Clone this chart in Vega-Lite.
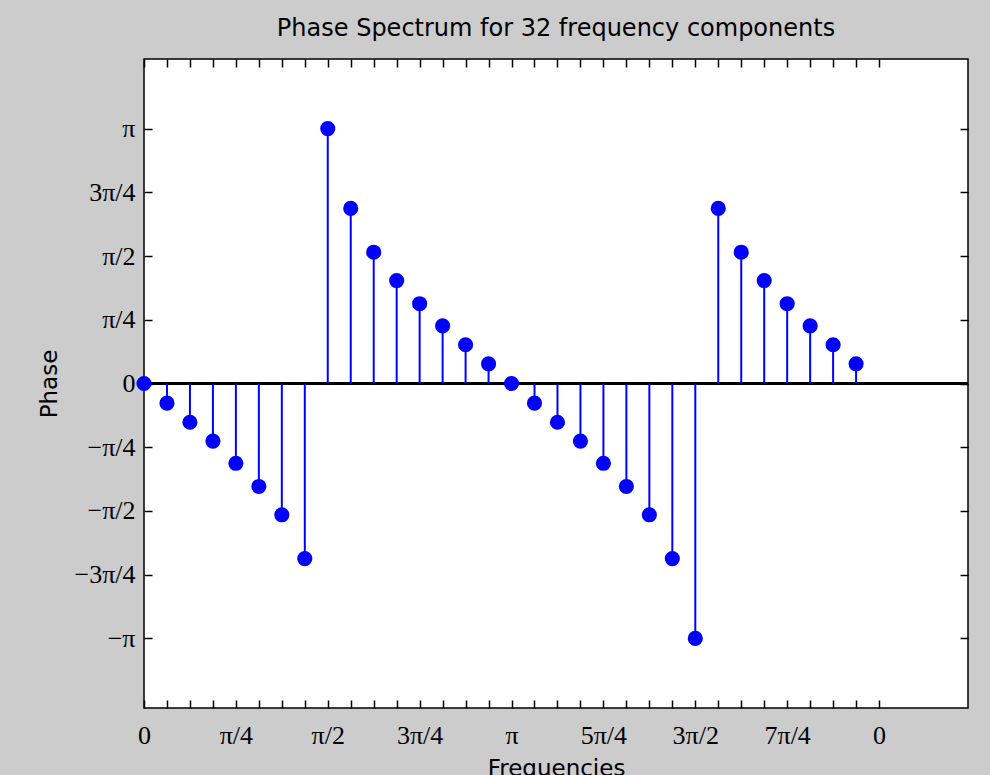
{
  "$schema": "https://vega.github.io/schema/vega-lite/v6.json",
  "autosize": {"type": "none"},
  "padding": {"left": 144, "top": 59, "right": 22, "bottom": 67},
  "width": 824,
  "height": 649,
  "background": "#cccccc",
  "config": {
    "view": {"fill": "white", "stroke": "black", "strokeWidth": 1.5},
    "axis": {"grid": false, "domain": false, "labelOverlap": false, "labelFlush": false, "tickColor": "black", "tickWidth": 1.5, "tickSize": -8, "labelFont": "Liberation Serif", "labelFontSize": 26, "labelColor": "black", "titleFont": "DejaVu Sans", "titleFontSize": 23, "titleFontWeight": "normal", "titleColor": "black"}
  },
  "title": {"text": "Phase Spectrum for 32 frequency components", "font": "DejaVu Sans", "fontSize": 24, "fontWeight": "normal", "color": "black", "anchor": "middle", "baseline": "alphabetic", "offset": -2},
  "data": {"values": [
    {"freq_pi": 0, "phase_pi": 0},
    {"freq_pi": 0.0625, "phase_pi": -0.077},
    {"freq_pi": 0.125, "phase_pi": -0.152},
    {"freq_pi": 0.1875, "phase_pi": -0.226},
    {"freq_pi": 0.25, "phase_pi": -0.313},
    {"freq_pi": 0.3125, "phase_pi": -0.404},
    {"freq_pi": 0.375, "phase_pi": -0.515},
    {"freq_pi": 0.4375, "phase_pi": -0.687},
    {"freq_pi": 0.5, "phase_pi": 1},
    {"freq_pi": 0.5625, "phase_pi": 0.687},
    {"freq_pi": 0.625, "phase_pi": 0.515},
    {"freq_pi": 0.6875, "phase_pi": 0.404},
    {"freq_pi": 0.75, "phase_pi": 0.313},
    {"freq_pi": 0.8125, "phase_pi": 0.226},
    {"freq_pi": 0.875, "phase_pi": 0.152},
    {"freq_pi": 0.9375, "phase_pi": 0.077},
    {"freq_pi": 1, "phase_pi": 0},
    {"freq_pi": 1.0625, "phase_pi": -0.077},
    {"freq_pi": 1.125, "phase_pi": -0.152},
    {"freq_pi": 1.1875, "phase_pi": -0.226},
    {"freq_pi": 1.25, "phase_pi": -0.313},
    {"freq_pi": 1.3125, "phase_pi": -0.404},
    {"freq_pi": 1.375, "phase_pi": -0.515},
    {"freq_pi": 1.4375, "phase_pi": -0.687},
    {"freq_pi": 1.5, "phase_pi": -1},
    {"freq_pi": 1.5625, "phase_pi": 0.687},
    {"freq_pi": 1.625, "phase_pi": 0.515},
    {"freq_pi": 1.6875, "phase_pi": 0.404},
    {"freq_pi": 1.75, "phase_pi": 0.313},
    {"freq_pi": 1.8125, "phase_pi": 0.226},
    {"freq_pi": 1.875, "phase_pi": 0.152},
    {"freq_pi": 1.9375, "phase_pi": 0.077}
  ]},
  "resolve": {"axis": {"x": "independent", "y": "independent"}},
  "layer": [
    {
      "mark": {"type": "rule", "color": "black", "strokeWidth": 1.5},
      "encoding": {
        "y": {"datum": 0, "type": "quantitative", "scale": {"domain": [-1.273, 1.273], "nice": false, "zero": false},
          "axis": {"orient": "left", "title": "Phase", "titlePadding": 12, "labelPadding": 17,
            "values": [-1, -0.75, -0.5, -0.25, 0, 0.25, 0.5, 0.75, 1],
            "labelExpr": "datum.value == -1 ? '−π' : datum.value == -0.75 ? '−3π/4' : datum.value == -0.5 ? '−π/2' : datum.value == -0.25 ? '−π/4' : datum.value == 0 ? '0' : datum.value == 0.25 ? 'π/4' : datum.value == 0.5 ? 'π/2' : datum.value == 0.75 ? '3π/4' : datum.value == 1 ? 'π' : ''"}}
      }
    },
    {
      "mark": {"type": "rule", "color": "#0000ff", "strokeWidth": 2},
      "encoding": {
        "x": {"field": "freq_pi", "type": "quantitative", "scale": {"domain": [0, 2.242], "nice": false, "zero": false},
          "axis": {"orient": "bottom", "title": "Frequencies", "titlePadding": 9, "labelPadding": 22,
            "values": [0, 0.0625, 0.125, 0.1875, 0.25, 0.3125, 0.375, 0.4375, 0.5, 0.5625, 0.625, 0.6875, 0.75, 0.8125, 0.875, 0.9375, 1, 1.0625, 1.125, 1.1875, 1.25, 1.3125, 1.375, 1.4375, 1.5, 1.5625, 1.625, 1.6875, 1.75, 1.8125, 1.875, 1.9375, 2],
            "labelExpr": "datum.value == 0 ? '0' : datum.value == 0.25 ? 'π/4' : datum.value == 0.5 ? 'π/2' : datum.value == 0.75 ? '3π/4' : datum.value == 1 ? 'π' : datum.value == 1.25 ? '5π/4' : datum.value == 1.5 ? '3π/2' : datum.value == 1.75 ? '7π/4' : datum.value == 2 ? '0' : ''"}},
        "y": {"field": "phase_pi", "type": "quantitative", "axis": null},
        "y2": {"datum": 0}
      }
    },
    {
      "mark": {"type": "point", "shape": "circle", "filled": true, "color": "#0000ff", "size": 230, "opacity": 1},
      "encoding": {
        "x": {"field": "freq_pi", "type": "quantitative",
          "axis": {"orient": "top", "title": null, "labels": false,
            "values": [0, 0.0625, 0.125, 0.1875, 0.25, 0.3125, 0.375, 0.4375, 0.5, 0.5625, 0.625, 0.6875, 0.75, 0.8125, 0.875, 0.9375, 1, 1.0625, 1.125, 1.1875, 1.25, 1.3125, 1.375, 1.4375, 1.5, 1.5625, 1.625, 1.6875, 1.75, 1.8125, 1.875, 1.9375, 2]}},
        "y": {"field": "phase_pi", "type": "quantitative",
          "axis": {"orient": "right", "title": null, "labels": false, "values": [-1, -0.75, -0.5, -0.25, 0, 0.25, 0.5, 0.75, 1]}}
      }
    }
  ]
}
